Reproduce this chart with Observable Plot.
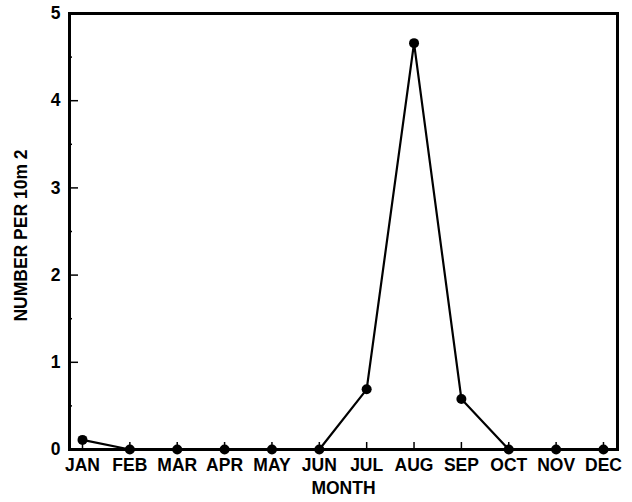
<!DOCTYPE html>
<html>
<head>
<meta charset="utf-8">
<script src="https://cdn.jsdelivr.net/npm/d3@7"></script>
<script src="https://cdn.jsdelivr.net/npm/@observablehq/plot@0.6"></script>
<style>
  html, body { margin: 0; padding: 0; background: #fff; }
  svg { display: block; }
</style>
</head>
<body>
<div id="chart"></div>
<script>
const months = ["JAN","FEB","MAR","APR","MAY","JUN","JUL","AUG","SEP","OCT","NOV","DEC"];
const monthIndex = [1,2,3,4,5,6,7,8,9,10,11,12];
const values = [0.11, 0, 0, 0, 0, 0, 0.69, 4.66, 0.58, 0, 0, 0];
const yTicks = [0,1,2,3,4,5];
const yMinor = [0.5,1.5,2.5,3.5,4.5];
const yLabel = "NUMBER PER 10m 2";
const xLabel = "MONTH";

const data = monthIndex.map((m, i) => ({month: m, value: values[i]}));

const W = 632, H = 502;
const mL = 69, mR = 15, mT = 13, mB = 53;
const innerW = W - mL - mR, innerH = H - mT - mB;
const fs = 17.5;

const chart = Plot.plot({
  width: W, height: H,
  marginLeft: mL, marginRight: mR, marginTop: mT, marginBottom: mB,
  style: {fontFamily: "'Liberation Sans', Arial, sans-serif", fontSize: fs + "px", fontWeight: "bold", color: "#000", background: "#fff"},
  x: {domain: [0.7255, 12.296]},
  y: {domain: [0, 5]},
  marks: [
    Plot.tickX(monthIndex, {x: d => d, insetTop: innerH - 7, stroke: "#000", strokeWidth: 1.5}),
    Plot.tickY(yTicks, {y: d => d, insetRight: innerW - 9, stroke: "#000", strokeWidth: 1.5}),
    Plot.tickY(yMinor, {y: d => d, insetRight: innerW - 3, stroke: "#000", strokeWidth: 1.5}),
    Plot.frame({stroke: "#000", strokeWidth: 3}),
    Plot.axisX(monthIndex, {tickSize: 0, tickPadding: 9, tickFormat: d => months[d - 1], fill: "#000", fontSize: fs, fontWeight: "bold", label: null}),
    Plot.axisY(yTicks, {tickSize: 0, tickPadding: 9, tickFormat: d => String(d), fill: "#000", fontSize: fs, fontWeight: "bold", label: null}),
    Plot.line(data, {x: "month", y: "value", stroke: "#000", strokeWidth: 2.2}),
    Plot.dot(data, {x: "month", y: "value", r: 5, fill: "#000", stroke: "none"}),
    Plot.text([yLabel], {frameAnchor: "left", textAnchor: "middle", lineAnchor: "middle", dx: -48, dy: 4, rotate: -90, text: d => d, fill: "#000", fontSize: fs, fontWeight: "bold"}),
    Plot.text([xLabel], {frameAnchor: "bottom", textAnchor: "middle", lineAnchor: "middle", dy: 39, text: d => d, fill: "#000", fontSize: fs, fontWeight: "bold"})
  ]
});
document.getElementById("chart").append(chart);
</script>
</body>
</html>
